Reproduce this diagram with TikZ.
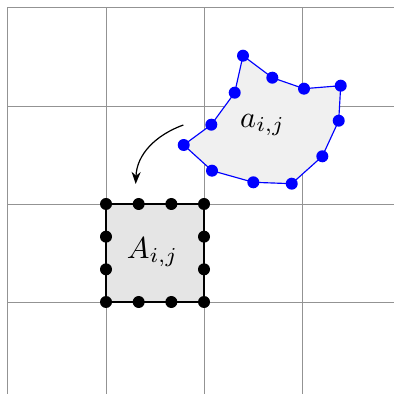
\documentclass[tikz,border=0pt]{standalone}
\usetikzlibrary{arrows.meta,calc}
\begin{document}
\begin{tikzpicture}[x=0.33pt,y=-0.33pt,
  gridline/.style={draw=gray!85,line width=0.32pt},
  bluedot/.style={circle,fill=blue,inner sep=0pt,minimum size=12*0.33pt},
  blackdot/.style={circle,fill=black,inner sep=0pt,minimum size=12*0.33pt},
  lbl/.style={inner sep=0pt,anchor=base}]
\useasboundingbox (0,0) rectangle (394,394);
% grid
\foreach \v in {7.3,106,204,302}{
  \draw[gridline] (\v,7.3) -- (\v,394);
  \draw[gridline] (7.3,\v) -- (394,\v);
}
% square
\coordinate (s1) at (106,204);
\coordinate (s2) at (204,204);
\coordinate (s3) at (204,302);
\coordinate (s4) at (106,302);
\fill[gray!20] (s1) rectangle (s3);
\draw[black,line width=0.5pt] (s1) -- (s2) -- (s3) -- (s4) -- cycle;
\foreach \i [count=\k] in {0,1,2}{
  \node[blackdot] (t\k) at ($(s1)!\i/3!(s2)$) {};
  \node[blackdot] (r\k) at ($(s2)!\i/3!(s3)$) {};
  \node[blackdot] (b\k) at ($(s3)!\i/3!(s4)$) {};
  \node[blackdot] (l\k) at ($(s4)!\i/3!(s1)$) {};
}
\node[lbl] (A) at (152.5,258.3) {$A_{i,j}$};
% polygon
\coordinate (p1) at (243,55.7);
\coordinate (p2) at (272.3,77.7);
\coordinate (p3) at (304,88.7);
\coordinate (p4) at (340.7,85.7);
\coordinate (p5) at (338.7,120.7);
\coordinate (p6) at (322.3,156.3);
\coordinate (p7) at (291.7,183.7);
\coordinate (p8) at (253.3,182.3);
\coordinate (p9) at (212,170.7);
\coordinate (p10) at (183.7,145);
\coordinate (p11) at (211.3,124.7);
\coordinate (p12) at (234.7,92.7);
\filldraw[fill=gray!12,draw=blue,line width=0.38pt] (p1) -- (p2) -- (p3) -- (p4) -- (p5) -- (p6) -- (p7) -- (p8) -- (p9) -- (p10) -- (p11) -- (p12) -- cycle;
\foreach \k in {1,...,12}{ \node[bluedot] (q\k) at (p\k) {}; }
\node[lbl] (a) at (262.5,127.3) {$a_{i,j}$};
% arrow
\coordinate (as) at (183.3,125);
\coordinate (ae) at (135.7,184);
\draw[-{Stealth[length=4pt,width=3pt]},line width=0.4pt] (as) to[out=200,in=88] (ae);
\end{tikzpicture}
\end{document}
